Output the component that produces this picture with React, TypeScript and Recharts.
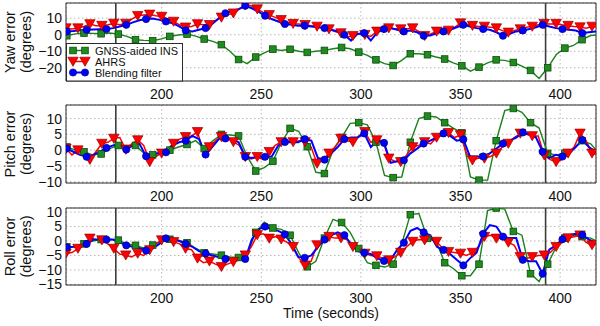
import React from 'react';
import { LineChart, Line, XAxis, YAxis, CartesianGrid, ReferenceLine, ReferenceArea } from 'recharts';

const FONT = '"Liberation Sans", Arial, Helvetica, sans-serif';

// Time axis (seconds)
const X_DOMAIN: [number, number] = [152, 418];
const X_TICKS = [200, 250, 300, 350, 400];
const EVENT_TIMES = [177, 392.7];

// Sampling of each series (seconds) and marker spacing (every n-th sample)
const GNSS_T0 = 152.4;
const GNSS_STEP = 4.31;
const GNSS_MARK_EVERY = 2;
const AHRS_T0 = 152;
const AHRS_STEP = 3;
const AHRS_MARK_EVERY = 2;
const BLEND_T0 = 152.4;
const BLEND_STEP = 3.317;
const BLEND_MARK_EVERY = 3;

// ---- Yaw error (degrees)
const yawGnss = [
  -0.6, 0.5, 1.0, 0.8, 0.6, 1.0, 0.4, -1.0, -3.0, -3.4, -3.6, -2.5, -1.0, -0.2, 0.4, -0.8, -2.6, -4.0, -6.0, -10.0,
  -15.0, -17.5, -13.5, -11.0, -8.7, -9.5, -8.8, -10.0, -10.7, -10.0,
  -9.5, -8.5, -7.7, -8.5, -10.5, -12.5, -15.2, -17.5, -18.6, -15.5,
  -11.5, -11.5, -12.1, -13.5, -14.7, -17.0, -18.8, -22.0, -19.6, -17.0,
  -15.2, -15.5, -16.8, -19.0, -21.6, -26.5, -20.0, -12.0, -8.1, -6.5,
  -3.0, -0.5, 0.0,
];
const yawAhrs = [
  4.0, 3.5, 4.0, 5.0, 6.5, 5.5, 5.5, 6.0, 6.8, 6.0,
  6.8, 9.5, 11.5, 12.0, 12.3, 11.5, 11.0, 9.5, 8.0, 6.0,
  4.5, 5.0, 6.5, 6.0, 6.0, 8.5, 10.5, 12.0, 13.0, 15.5,
  18.0, 17.5, 15.5, 13.5, 12.0, 10.5, 9.0, 7.5, 6.7, 6.5,
  6.0, 5.5, 5.0, 4.0, 3.4, 2.0, 1.0, -1.5, -0.6, 0.5,
  0.0, -1.0, 2.0, 3.5, 4.0, 3.5, 3.4, 3.5, 4.0, 2.0,
  -0.6, 0.5, 2.0, 2.5, 2.6, 4.5, 7.0, 6.5, 5.5, 5.0,
  5.0, 4.5, 4.0, 2.5, 1.4, 2.5, 3.4, 4.5, 5.0, 6.0,
  6.7, 6.5, 6.7, 6.0, 5.5, 5.0, 4.6, 4.0, 5.0, 4.5,
];
const yawBlend = [
  2.0, 2.3, 2.7, 3.0, 3.2, 3.3, 3.4, 4.0, 5.0, 6.0,
  7.5, 8.8, 9.5, 9.8, 9.0, 8.0, 7.0, 5.0, 2.6, 2.0,
  3.0, 4.0, 6.5, 10.0, 13.0, 14.5, 15.5, 17.5, 16.0, 14.0,
  11.5, 9.5, 8.0, 6.5, 6.0, 5.5, 5.5, 5.0, 4.5, 4.0,
  3.0, 2.0, 0.0, -3.5, 0.5, 1.0, -3.5, 1.5, 3.4, 4.0,
  3.0, 2.0, 2.5, 1.5, -0.6, -0.5, 1.0, 2.0, 3.0, 4.5,
  6.0, 5.0, 4.0, 3.4, 3.0, 1.5, -0.6, 0.5, 2.0, 2.6,
  3.5, 4.5, 6.0, 5.0, 4.0, 3.4, 3.0, 2.5, 1.0, 1.5,
  2.0, 2.0,
];

// ---- Pitch error (degrees)
const pitchGnss = [
  1.0, 0.0, -0.5, -1.5, -1.2, 0.5, 1.5, 1.5, 1.5, -1.0,
  -1.5, -1.0, 0.0, 1.0, 1.8, 3.0, 0.5, 3.0, 5.0, 4.8,
  4.5, -2.0, -6.6, -5.5, -3.5, 2.5, 6.9, 6.0, 1.1, -7.0,
  -7.4, 0.0, 4.0, 8.5, 8.7, 8.0, 2.5, -8.0, -8.7, -8.5,
  2.5, 10.0, 10.8, 10.5, 8.7, 7.0, 5.5, -8.5, -9.5, -9.5,
  3.0, 12.5, 13.2, 12.0, 8.7, 7.0, -1.0, -1.5, -1.0, 0.5,
  3.0, 2.0, -1.0,
];
const pitchAhrs = [
  0.5, -1.5, 0.0, -1.5, -3.0, -0.5, 2.1, 2.5, 3.7, 4.0,
  0.2, 2.0, 3.2, 1.5, -3.7, -2.0, -1.0, 0.5, 2.1, 3.5,
  4.2, 4.5, 5.8, -0.5, 1.0, 3.0, 4.2, 4.0, 2.6, 1.5,
  -2.1, -2.8, -2.1, -3.0, -0.5, 1.5, 2.6, 3.0, 2.6, 3.0,
  2.6, 1.0, -4.2, -3.0, -1.0, 1.0, 3.7, 3.0, 2.6, 4.5,
  5.8, 2.5, 3.2, 3.0, -2.6, -3.5, -3.7, -1.5, 1.0, 1.5,
  2.6, 2.0, 4.0, 5.0, 5.5, 4.0, 4.8, -1.0, -3.2, -2.5,
  -2.6, -2.0, -1.0, 1.0, 2.1, 4.0, 5.3, 5.0, 4.5, 4.5,
  -1.6, -3.0, -3.7, -3.0, -1.0, 1.0, 5.3, 3.0, -1.0, -1.5,
];
const pitchBlend = [
  0.5, -0.5, -1.5, -2.1, -1.5, -0.5, 0.7, 1.5, 2.0, 0.2,
  1.5, 2.0, -1.9, -1.0, -1.0, -0.7, 1.5, 2.5, 3.0, 4.5,
  3.5, -1.4, 1.0, 3.5, 3.7, 3.5, 2.5, -2.1, -2.5, -2.0,
  -2.1, -2.0, 1.5, 2.6, 2.5, 2.5, 3.5, 3.0, -2.5, -3.0,
  -1.0, 1.0, 3.5, 4.0, 4.0, 5.3, 1.0, 3.0, 2.3, -4.0,
  -3.5, -3.2, -1.0, 0.5, 2.1, 3.0, 4.0, 5.3, 4.5, 3.0,
  3.4, -2.0, -2.0, -2.0, -1.0, 0.5, 2.1, 3.0, 4.0, 5.6,
  5.0, 4.0, -0.5, -2.5, -1.5, -2.0, -1.0, 1.0, 3.2, 1.0,
  -0.5, -1.0,
];

// ---- Roll error (degrees)
const rollGnss = [
  -2.0, -2.0, -1.0, 0.0, 0.5, 0.5, 0.3, -1.0, -1.5, -2.5,
  -1.4, 0.0, 0.6, 0.3, -0.6, -2.5, -4.1, -4.5, -4.9, -5.5,
  -5.7, -4.5, 3.0, 6.5, 4.5, 4.0, 2.0, -4.0, -8.9, -7.0,
  1.0, 7.5, 6.4, 3.0, -2.6, -7.5, -8.4, -9.0, -8.0, -1.0,
  9.1, 9.5, 0.9, 0.0, -7.5, -9.5, -12.0, -12.0, -8.0, 10.5,
  11.4, 11.0, 3.3, 2.0, -11.3, -14.0, -8.0, -2.0, 1.0, 2.0,
  1.5, 1.0, -0.5,
];
const rollAhrs = [
  -4.3, -4.0, -2.6, -1.5, 0.9, 0.5, 0.3, -1.0, -2.6, -4.5,
  -4.9, -5.5, -4.3, -5.0, -3.1, -1.0, 0.3, 0.5, -0.3, -1.0,
  -2.6, -3.0, -6.0, -7.5, -7.0, -8.0, -8.9, -8.0, -7.2, -6.5,
  -4.9, -2.0, 2.1, 2.5, 0.9, 1.5, 0.6, -0.5, -2.0, -6.0,
  -8.4, -7.0, -1.4, 0.5, 1.5, 1.0, 1.0, 0.5, -2.0, -3.5,
  -4.3, -5.0, -5.2, -6.0, -6.6, -5.5, -4.0, -2.0, -0.2, 0.5,
  0.3, 0.5, -0.2, -2.5, -3.7, -4.0, -4.3, -5.0, -4.0, -2.0,
  1.5, 2.0, 0.9, 1.0, -0.5, -1.5, -5.5, -6.0, -5.5, -5.0,
  -4.9, -4.0, -2.0, -0.5, 1.0, 1.5, 2.0, -0.5, -1.4, -1.0,
];
const rollBlend = [
  -2.2, -2.0, -1.5, -1.0, 0.5, 0.5, 0.5, 0.5, -0.5, -1.5,
  -2.0, -2.5, -3.3, -2.5, -1.0, 0.9, 0.5, 0.0, -1.0, -2.0,
  -3.5, -4.3, -5.0, -5.5, -6.2, -6.5, -6.5, -6.2, 0.5, 4.0,
  5.0, 4.0, 3.5, 2.3, -1.0, -5.5, -5.8, -5.0, -2.0, 0.5,
  2.0, 3.0, 2.0, -1.0, -3.5, -4.1, -4.5, -6.0, -6.9, -6.5,
  -3.0, -0.6, 3.5, 4.5, 3.0, 2.0, -2.0, -3.1, -4.5, -6.5,
  -8.4, -6.0, -4.0, 2.5, 5.5, 5.0, 1.5, 1.0, 1.0, -6.5,
  -7.0, -7.0, -11.3, -3.0, -1.5, 0.6, 2.0, 2.5, 2.1, 0.5,
  -0.5, 0.0,
];

const YAW_DOMAIN: [number, number] = [-28, 19.2];
const YAW_TICKS = [-20, -10, 0, 10];
const PITCH_DOMAIN: [number, number] = [-10.4, 14.3];
const PITCH_TICKS = [-10, -5, 0, 5, 10];
const ROLL_DOMAIN: [number, number] = [-15.2, 11.4];
const ROLL_TICKS = [-15, -10, -5, 0, 5, 10];

type Pt = { t: number; v: number };
const toSeries = (t0: number, step: number, vals: number[]): Pt[] =>
  vals.map((v, i) => ({ t: Math.round((t0 + i * step) * 100) / 100, v }));

const GREEN = '#1a821a';
const GREEN_FILL = '#218a21';
const GREEN_EDGE = '#0b4d0b';
const RED = '#ff0000';
const RED_EDGE = '#9a0000';
const BLUE = '#0000ff';
const BLUE_EDGE = '#00007a';

type Kind = 'square' | 'tri' | 'circle';

function Marker({ kind, cx, cy }: { kind: Kind; cx: number; cy: number }) {
  if (kind === 'square') {
    return <rect x={cx - 3.3} y={cy - 3.3} width={6.6} height={6.6} fill={GREEN_FILL} stroke={GREEN_EDGE} strokeWidth={0.8} />;
  }
  if (kind === 'tri') {
    return (
      <polygon
        points={`${cx - 5.2},${cy - 4.3} ${cx + 5.2},${cy - 4.3} ${cx},${cy + 4.8}`}
        fill={RED}
        stroke={RED_EDGE}
        strokeWidth={0.7}
      />
    );
  }
  return <circle cx={cx} cy={cy} r={3.6} fill={BLUE} stroke={BLUE_EDGE} strokeWidth={0.7} />;
}

const makeDot = (kind: Kind, every: number) => (p: any) => {
  const { cx, cy, index, payload } = p;
  const key = `${kind}-${index}`;
  if (
    index % every !== 0 ||
    cx == null ||
    cy == null ||
    !payload ||
    payload.t < X_DOMAIN[0] - 1 ||
    payload.t > X_DOMAIN[1]
  ) {
    return <g key={key} />;
  }
  return (
    <g key={key}>
      <Marker kind={kind} cx={cx} cy={cy} />
    </g>
  );
};

const fmt = (v: number) => (v < 0 ? `\u2212${Math.abs(v)}` : `${v}`);

type PanelProps = {
  top: number;
  height: number;
  marginTop: number;
  yDomain: [number, number];
  yTicks: number[];
  gnss: number[];
  ahrs: number[];
  blend: number[];
};

function Panel({ top, height, marginTop, yDomain, yTicks, gnss, ahrs, blend }: PanelProps) {
  const g = toSeries(GNSS_T0, GNSS_STEP, gnss);
  const a = toSeries(AHRS_T0, AHRS_STEP, ahrs);
  const b = toSeries(BLEND_T0, BLEND_STEP, blend);
  const tickStyle = { fontSize: 14, fill: '#111', fontFamily: FONT };
  return (
    <div style={{ position: 'absolute', left: 0, top, width: 600, height }}>
      <LineChart width={600} height={height} margin={{ top: marginTop, right: 4, bottom: 0, left: 0 }}>
        <CartesianGrid stroke="#b8b8b8" strokeDasharray="1.5 2.5" strokeWidth={1} />
        <XAxis
          type="number"
          dataKey="t"
          domain={X_DOMAIN}
          allowDataOverflow
          ticks={X_TICKS}
          interval={0}
          height={24}
          tickSize={0}
          tickMargin={8}
          axisLine={false}
          tickLine={false}
          tick={tickStyle}
        />
        <YAxis
          type="number"
          domain={yDomain}
          allowDataOverflow
          ticks={yTicks}
          interval={0}
          width={66}
          tickSize={0}
          tickMargin={4}
          axisLine={false}
          tickLine={false}
          tickFormatter={fmt}
          tick={tickStyle}
        />
        {EVENT_TIMES.map((t) => (
          <ReferenceLine key={t} x={t} stroke="#3c3c3c" strokeWidth={1.6} />
        ))}
        <Line
          data={g}
          dataKey="v"
          type="linear"
          stroke={GREEN}
          strokeWidth={1.4}
          dot={makeDot('square', GNSS_MARK_EVERY)}
          activeDot={false}
          isAnimationActive={false}
        />
        <Line
          data={a}
          dataKey="v"
          type="linear"
          stroke={RED}
          strokeWidth={1.5}
          dot={makeDot('tri', AHRS_MARK_EVERY)}
          activeDot={false}
          isAnimationActive={false}
        />
        <Line
          data={b}
          dataKey="v"
          type="linear"
          stroke={BLUE}
          strokeWidth={2}
          dot={makeDot('circle', BLEND_MARK_EVERY)}
          activeDot={false}
          isAnimationActive={false}
        />
        <ReferenceArea
          x1={X_DOMAIN[0]}
          x2={X_DOMAIN[1]}
          y1={yDomain[0]}
          y2={yDomain[1]}
          fill="none"
          fillOpacity={0}
          stroke="#2a2a2a"
          strokeWidth={1}
          ifOverflow="visible"
        />
      </LineChart>
    </div>
  );
}

function YLabel({ cy, title }: { cy: number; title: string }) {
  const style = { fontSize: 14.5, fontFamily: FONT, fill: '#111' } as const;
  return (
    <g>
      <text x={14.5} y={cy} textAnchor="middle" transform={`rotate(-90 14.5 ${cy})`} style={style}>
        {title}
      </text>
      <text x={30.5} y={cy} textAnchor="middle" transform={`rotate(-90 30.5 ${cy})`} style={style}>
        (degrees)
      </text>
    </g>
  );
}

function Overlay() {
  const rows = [
    { kind: 'square' as Kind, color: GREEN, label: 'GNSS-aided INS', y: 50.5 },
    { kind: 'tri' as Kind, color: RED, label: 'AHRS', y: 61.5 },
    { kind: 'circle' as Kind, color: BLUE, label: 'Blending filter', y: 72.5 },
  ];
  return (
    <svg
      width={600}
      height={326}
      style={{ position: 'absolute', left: 0, top: 0, pointerEvents: 'none' }}
    >
      <YLabel cy={42} title="Yaw error" />
      <YLabel cy={144} title="Pitch error" />
      <YLabel cy={246.5} title="Roll error" />
      <rect x={66.5} y={43.5} width={116} height={37.5} fill="#fff" stroke="#2a2a2a" strokeWidth={1} />
      {rows.map((r) => (
        <g key={r.label}>
          <line x1={71} x2={87} y1={r.y} y2={r.y} stroke={r.color} strokeWidth={r.kind === 'circle' ? 2 : 1.5} />
          <Marker kind={r.kind} cx={73} cy={r.y} />
          <Marker kind={r.kind} cx={85} cy={r.y} />
          <text x={95} y={r.y + 4} style={{ fontSize: 11, fontFamily: FONT, fill: '#111' }}>
            {r.label}
          </text>
        </g>
      ))}
      <text x={331} y={317.5} textAnchor="middle" style={{ fontSize: 14, fontFamily: FONT, fill: '#111' }}>
        Time (seconds)
      </text>
    </svg>
  );
}

export default function App() {
  return (
    <div style={{ position: 'absolute', left: 0, top: 0, width: 600, height: 326, background: '#fff', overflow: 'hidden' }}>
      <Panel top={0} height={105} marginTop={3} yDomain={YAW_DOMAIN} yTicks={YAW_TICKS} gnss={yawGnss} ahrs={yawAhrs} blend={yawBlend} />
      <Panel top={100} height={107} marginTop={5} yDomain={PITCH_DOMAIN} yTicks={PITCH_TICKS} gnss={pitchGnss} ahrs={pitchAhrs} blend={pitchBlend} />
      <Panel top={203} height={106} marginTop={5} yDomain={ROLL_DOMAIN} yTicks={ROLL_TICKS} gnss={rollGnss} ahrs={rollAhrs} blend={rollBlend} />
      <Overlay />
    </div>
  );
}
